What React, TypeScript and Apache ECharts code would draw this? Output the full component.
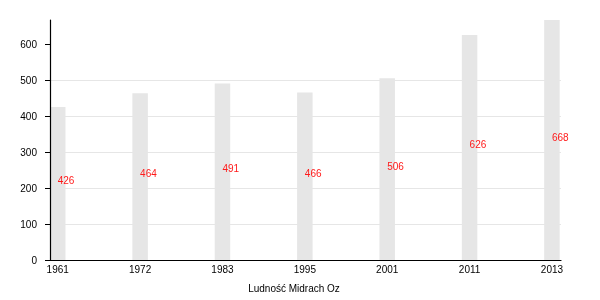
import React, { useEffect, useRef } from "react";
import * as echarts from "echarts";

const years = ["1961", "1972", "1983", "1995", "2001", "2011", "2013"];
const population = [426, 464, 491, 466, 506, 626, 668];
const yTicks = [0, 100, 200, 300, 400, 500, 600];
const axisTitle = "Ludność Midrach Oz";

export default function App() {
  const ref = useRef<HTMLDivElement>(null);
  useEffect(() => {
    if (!ref.current) return;
    const chart = echarts.init(ref.current, undefined, { renderer: "svg" });
    const font = "'Liberation Sans', Arial, Helvetica, sans-serif";
    const idx = years.map((_, i) => i);
    chart.setOption({
      animation: false,
      textStyle: { fontFamily: font },
      grid: { left: 50, right: 39, top: 20, bottom: 40, containLabel: false },
      xAxis: {
        type: "value",
        min: -0.094,
        max: 6.11,
        z: 5,
        axisLine: { show: true, onZero: false, lineStyle: { color: "#000", width: 1.2 } },
        axisTick: { show: false },
        splitLine: { show: false },
        axisLabel: {
          customValues: idx,
          formatter: (v: number) => years[Math.round(v)] ?? "",
          color: "#000",
          fontSize: 10,
          fontFamily: font,
          margin: 4,
        },
      },
      yAxis: {
        type: "value",
        min: 0,
        max: 668,
        interval: 100,
        z: 5,
        axisLine: { show: true, onZero: false, lineStyle: { color: "#000", width: 1.2 } },
        axisTick: { show: true, length: 5, customValues: yTicks, lineStyle: { color: "#000" } },
        splitLine: { show: true, showMaxLine: false, lineStyle: { color: "#e6e6e6", width: 1 } },
        axisLabel: {
          customValues: yTicks,
          color: "#000",
          fontSize: 10,
          fontFamily: font,
          margin: 13,
        },
      },
      graphic: [
        {
          type: "text",
          x: 294,
          y: 288,
          style: {
            text: axisTitle,
            fontSize: 10,
            fontFamily: font,
            fill: "#000",
            textAlign: "center",
            textVerticalAlign: "middle",
          },
        },
      ],
      series: [
        {
          type: "bar",
          barWidth: 15.5,
          z: 2,
          data: population.map((v, i) => [i, v]),
          itemStyle: { color: "#e6e6e6" },
          label: {
            show: true,
            position: "inside",
            align: "left",
            verticalAlign: "middle",
            offset: [0, -3],
            color: "#ff1a1a",
            fontSize: 10,
            fontFamily: font,
            formatter: (p: any) => String(p.value[1]),
          },
        },
      ],
    });
    return () => chart.dispose();
  }, []);
  return (
    <div
      ref={ref}
      style={{ width: 600, height: 300, position: "fixed", left: 0, top: 0 }}
    />
  );
}
